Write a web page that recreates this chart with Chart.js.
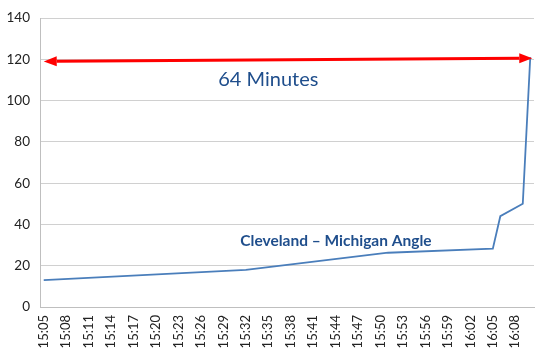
<!DOCTYPE html>
<html>
<head>
<meta charset="utf-8">
<script src="https://cdn.jsdelivr.net/npm/chart.js@4.4.0/dist/chart.umd.min.js"></script>
<style>
  html, body { margin: 0; padding: 0; background: #fff; }
  #wrap { width: 550px; height: 359px; }
</style>
</head>
<body>
<div id="wrap"><canvas id="travelChart"></canvas></div>
<script>
// one category per minute, 15:05 .. 16:10
const startHour = 15, startMin = 5, minuteCount = 66;
const timeLabels = [];
for (let i = 0; i < minuteCount; i++) {
    const t = startHour * 60 + startMin + i;
    timeLabels.push(Math.floor(t / 60) + ':' + String(t % 60).padStart(2, '0'));
}

// travel time readings (minute index -> value)
const readingTimes = ['15:05', '15:32', '15:51', '16:05', '16:06', '16:09', '16:10'];
const readingValues = [13, 18, 26.3, 28.3, 44, 50, 121];

const yTicks = [0, 20, 40, 60, 80, 100, 120, 140];

const arrowStart = { time: '15:05', value: 119 };
const arrowEnd = { time: '16:10', value: 120.6 };
const spanText = '64 Minutes';
const seriesText = 'Cleveland \u2013 Michigan Angle';

const lineData = timeLabels.map(l => {
    const k = readingTimes.indexOf(l);
    return k >= 0 ? readingValues[k] : null;
});

const annotate = {
    id: 'annotate',
    afterDatasetsDraw(chart) {
        const ctx = chart.ctx;
        const xs = chart.scales.x, ys = chart.scales.y;
        const x1 = xs.getPixelForValue(timeLabels.indexOf(arrowStart.time));
        const y1 = ys.getPixelForValue(arrowStart.value);
        const x2 = xs.getPixelForValue(timeLabels.indexOf(arrowEnd.time)) + 2;
        const y2 = ys.getPixelForValue(arrowEnd.value);
        const ang = Math.atan2(y2 - y1, x2 - x1);
        const head = 13, half = 5;

        ctx.save();
        ctx.strokeStyle = '#ff0000';
        ctx.fillStyle = '#ff0000';
        ctx.lineWidth = 3;
        ctx.beginPath();
        ctx.moveTo(x1 + Math.cos(ang) * head, y1 + Math.sin(ang) * head);
        ctx.lineTo(x2 - Math.cos(ang) * head, y2 - Math.sin(ang) * head);
        ctx.stroke();

        function arrowHead(tx, ty, dir) {
            const bx = tx - Math.cos(dir) * head, by = ty - Math.sin(dir) * head;
            ctx.beginPath();
            ctx.moveTo(tx, ty);
            ctx.lineTo(bx - Math.sin(dir) * half, by + Math.cos(dir) * half);
            ctx.lineTo(bx + Math.sin(dir) * half, by - Math.cos(dir) * half);
            ctx.closePath();
            ctx.fill();
        }
        arrowHead(x2, y2, ang);
        arrowHead(x1, y1, ang + Math.PI);

        ctx.fillStyle = '#1f4e8c';
        ctx.textBaseline = 'middle';
        ctx.textAlign = 'center';
        ctx.font = '20px Lato, "Open Sans", sans-serif';
        ctx.fillText(spanText, (xs.getPixelForValue(29) + xs.getPixelForValue(31)) / 2, ys.getPixelForValue(110));

        ctx.textAlign = 'left';
        ctx.font = 'bold 15.5px Lato, "Open Sans", sans-serif';
        ctx.fillText(seriesText, xs.getPixelForValue(26) + 2, ys.getPixelForValue(32));
        ctx.restore();
    }
};

const ctx = document.getElementById('travelChart').getContext('2d');
new Chart(ctx, {
    type: 'line',
    data: {
        labels: timeLabels,
        datasets: [{
            data: lineData,
            borderColor: '#4a7ebb',
            borderWidth: 1.8,
            pointRadius: 0,
            fill: false,
            tension: 0,
            spanGaps: true
        }]
    },
    options: {
        responsive: true,
        maintainAspectRatio: false,
        animation: false,
        layout: { padding: { top: 8, right: 16, left: 0, bottom: 0 } },
        plugins: {
            legend: { display: false },
            tooltip: { enabled: false }
        },
        scales: {
            x: {
                offset: true,
                grid: { display: false, drawTicks: false },
                border: { color: '#bfbfbf', width: 1 },
                afterFit: s => { s.height = 52; },
                ticks: {
                    autoSkip: false,
                    maxRotation: 90,
                    minRotation: 90,
                    padding: 8,
                    color: '#222',
                    font: { family: 'Lato, "Open Sans", sans-serif', size: 13 },
                    callback: (v, i) => (i % 3 === 0 ? timeLabels[i] : null)
                }
            },
            y: {
                min: 0,
                max: 140,
                afterBuildTicks: s => { s.ticks = yTicks.map(v => ({ value: v })); },
                afterFit: s => { s.width = 40; },
                grid: { color: '#d0d0d0', drawTicks: false },
                border: { color: '#bfbfbf', width: 1 },
                ticks: {
                    padding: 10,
                    color: '#222',
                    font: { family: 'Lato, "Open Sans", sans-serif', size: 13.5 }
                }
            }
        }
    },
    plugins: [annotate]
});
</script>
</body>
</html>
